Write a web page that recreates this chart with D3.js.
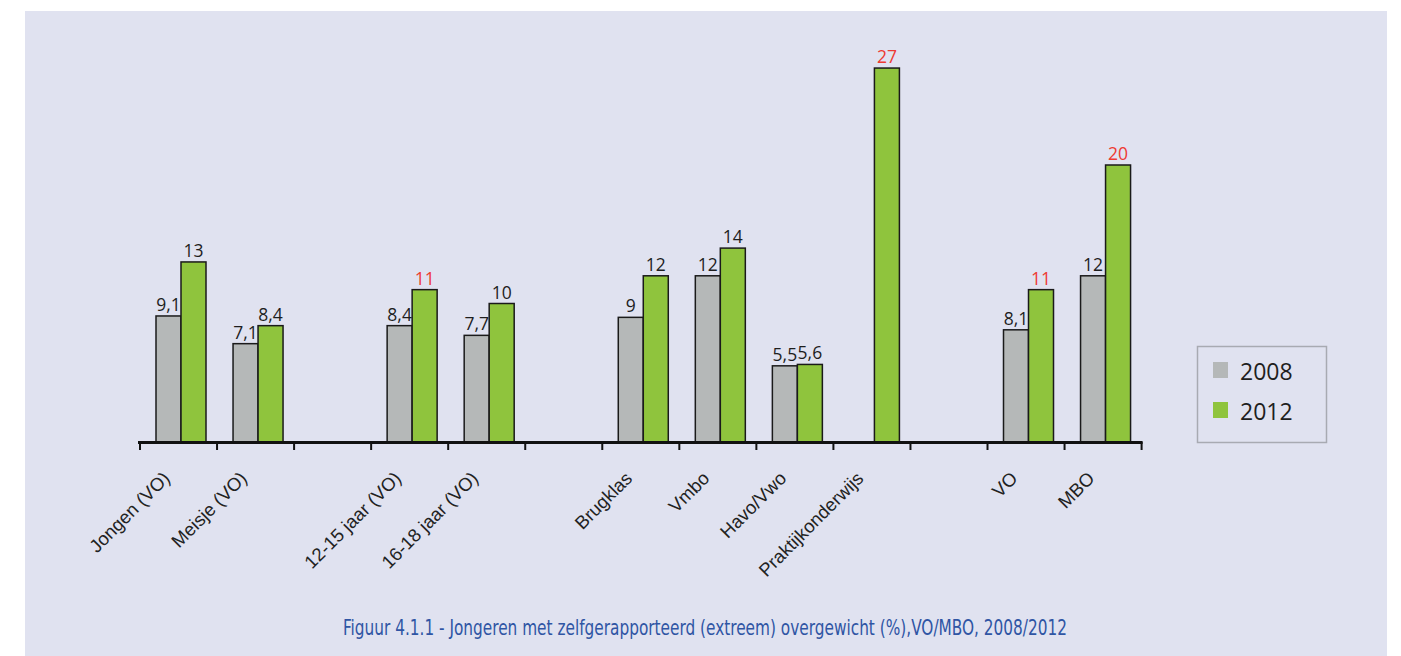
<!DOCTYPE html>
<html>
<head>
<meta charset="utf-8">
<script src="https://cdn.jsdelivr.net/npm/d3@7"></script>
<style>
  html, body { margin: 0; padding: 0; background: #ffffff; }
  svg { display: block; }
</style>
</head>
<body>
<svg id="chart" width="1401" height="656"></svg>
<script>
// Category slots along the axis; null marks an empty spacer slot between groups
const categories = ["Jongen (VO)", "Meisje (VO)", null, "12-15 jaar (VO)", "16-18 jaar (VO)", null,
  "Brugklas", "Vmbo", "Havo/Vwo", "Praktijkonderwijs", null, "VO", "MBO"];
const seriesNames = ["2008", "2012"];
const values2008 = [9.1, 7.1, null, 8.4, 7.7, null, 9, 12, 5.5, null, null, 8.1, 12];
const values2012 = [13, 8.4, null, 11, 10, null, 12, 14, 5.6, 27, null, 11, 20];
// 2012 values shown in red
const highlight2012 = [false, false, false, true, false, false, false, false, false, true, false, true, true];
const caption = "Figuur 4.1.1 - Jongeren met zelfgerapporteerd (extreem) overgewicht (%),VO/MBO, 2008/2012";

const colors = { "2008": "#b5b8b8", "2012": "#8fc43d" };
const svg = d3.select("#chart");

// panel background
svg.append("rect").attr("x", 25).attr("y", 11).attr("width", 1362).attr("height", 645)
  .attr("fill", "#e0e2f0");

const baseY = 442;
const x0 = d3.scaleBand().domain(d3.range(categories.length)).range([140, 1141.6]).paddingInner(0).paddingOuter(0);
const x1 = d3.scaleBand().domain(seriesNames).range([16, 66]).padding(0);
const y = d3.scaleLinear().domain([0, 30]).range([baseY, baseY - 30 * 13.85]);

const fmt = v => d3.format("~r")(v).replace(".", ",");

const rows = [];
categories.forEach((c, i) => {
  if (values2008[i] != null) rows.push({ i, s: "2008", v: values2008[i], red: false });
  if (values2012[i] != null) rows.push({ i, s: "2012", v: values2012[i], red: highlight2012[i] });
});

const bars = svg.append("g");
bars.selectAll("rect").data(rows).join("rect")
  .attr("x", d => x0(d.i) + x1(d.s))
  .attr("y", d => y(d.v))
  .attr("width", x1.bandwidth())
  .attr("height", d => y(0) - y(d.v))
  .attr("fill", d => colors[d.s])
  .attr("stroke", "#1a1a1a")
  .attr("stroke-width", 1.5);

bars.selectAll("text").data(rows).join("text")
  .attr("x", d => x0(d.i) + x1(d.s) + x1.bandwidth() / 2)
  .attr("y", d => y(d.v) - 5)
  .attr("text-anchor", "middle")
  .attr("font-family", "'Open Sans', sans-serif")
  .attr("font-size", 17.5)
  .attr("fill", d => d.red ? "#ee3a32" : "#1e1e1e")
  .text(d => fmt(d.v));

// x axis: thick baseline with ticks on slot boundaries
const axisG = svg.append("g");
const bounds = d3.range(categories.length + 1).map(k => 140 + k * x0.step());
axisG.append("line").attr("x1", 138).attr("x2", bounds[bounds.length - 1] + 1)
  .attr("y1", baseY + 0.5).attr("y2", baseY + 0.5)
  .attr("stroke", "#111").attr("stroke-width", 3);
axisG.selectAll("line.tick").data(bounds).join("line").attr("class", "tick")
  .attr("x1", d => d).attr("x2", d => d)
  .attr("y1", baseY).attr("y2", baseY + 8)
  .attr("stroke", "#111").attr("stroke-width", 2);

axisG.selectAll("text").data(categories.map((c, i) => ({ c, i })).filter(d => d.c))
  .join("text")
  .attr("transform", d => `translate(${x0(d.i) + x0.bandwidth() / 2 - 12},${baseY + 33}) rotate(-45)`)
  .attr("text-anchor", "end")
  .attr("dy", "0.35em")
  .attr("font-family", "'Liberation Sans', Arial, sans-serif")
  .attr("font-size", 18.5)
  .attr("fill", "#222")
  .text(d => d.c);

// legend
const lg = svg.append("g");
lg.append("rect").attr("x", 1197.5).attr("y", 346.5).attr("width", 129).attr("height", 96)
  .attr("fill", "none").attr("stroke", "#a8aab2").attr("stroke-width", 1.5);
seriesNames.forEach((s, k) => {
  lg.append("rect").attr("x", 1213).attr("y", 362 + k * 40).attr("width", 15).attr("height", 16)
    .attr("fill", colors[s]);
  lg.append("text").attr("x", 1240).attr("y", 380 + k * 40)
    .attr("font-family", "'Open Sans', sans-serif").attr("font-size", 23)
    .attr("fill", "#1e1e1e").text(s);
});

// caption
svg.append("text").attr("x", 343).attr("y", 635)
  .attr("font-family", "'Liberation Sans Narrow', 'DejaVu Sans Condensed', sans-serif")
  .attr("font-size", 21)
  .attr("fill", "#2f55a4")
  .attr("textLength", 724).attr("lengthAdjust", "spacingAndGlyphs")
  .text(caption);
</script>
</body>
</html>
